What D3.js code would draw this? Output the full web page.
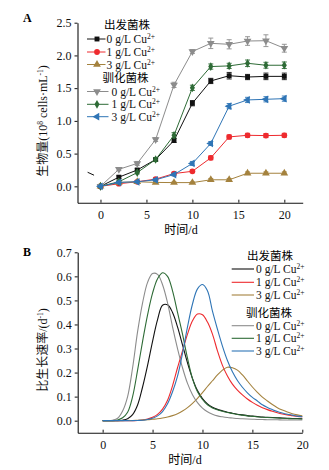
<!DOCTYPE html>
<html>
<head>
<meta charset="utf-8">
<script src="https://cdn.jsdelivr.net/npm/d3@7"></script>
<style>
  body { margin: 0; background: #fff; }
  svg { display: block; }
</style>
</head>
<body>
<svg id="chart" width="329" height="470"></svg>
<script>
// ---- panel A data (biomass, 10^8 cells/mL) ----
const daysA = [0, 2, 4, 6, 8, 10, 12, 14, 16, 18, 20];
const start0 = [0, 0.14, 0.25, 0.41, 0.70, 1.27, 1.61, 1.69, 1.67, 1.68, 1.68];
const start1 = [0, 0.04, 0.07, 0.11, 0.195, 0.23, 0.435, 0.755, 0.78, 0.775, 0.78];
const start3 = [0, 0.06, 0.07, 0.06, 0.057, 0.057, 0.10, 0.10, 0.20, 0.20, 0.20];
const acc0 = [0, 0.26, 0.35, 0.715, 1.55, 2.06, 2.185, 2.17, 2.22, 2.225, 2.11];
const acc1 = [0, 0.07, 0.21, 0.41, 0.78, 1.505, 1.83, 1.84, 1.88, 1.85, 1.85];
const acc3 = [0, 0.06, 0.07, 0.10, 0.18, 0.35, 0.655, 1.225, 1.32, 1.33, 1.34];
const start0Err = [0.01, 0.02, 0.02, 0.02, 0.03, 0.04, 0.04, 0.05, 0.04, 0.05, 0.05];
const start1Err = [0.01, 0.02, 0.02, 0.02, 0.02, 0.02, 0.03, 0.03, 0.03, 0.03, 0.03];
const start3Err = [0.01, 0.01, 0.01, 0.01, 0.01, 0.01, 0.02, 0.02, 0.02, 0.02, 0.02];
const acc0Err = [0.01, 0.02, 0.03, 0.03, 0.04, 0.03, 0.08, 0.07, 0.066, 0.09, 0.06];
const acc1Err = [0.01, 0.02, 0.02, 0.03, 0.04, 0.04, 0.04, 0.04, 0.05, 0.045, 0.05];
const acc3Err = [0.01, 0.01, 0.01, 0.02, 0.02, 0.03, 0.03, 0.04, 0.04, 0.04, 0.04];

// ---- panel B data (specific growth rate, 1/d), read every half day ----
const daysB = [0, 0.5, 1, 1.5, 2, 2.5, 3, 3.5, 4, 4.5, 5, 5.5, 6, 6.5, 7, 7.5, 8, 8.5, 9, 9.5, 10,
  10.5, 11, 11.5, 12, 12.5, 13, 13.5, 14, 14.5, 15, 15.5, 16, 16.5, 17, 17.5, 18, 18.5, 19, 19.5, 20];
const rateStart0 = [0, 0, 0, 0, 0.002, 0.008, 0.025, 0.065, 0.14, 0.23, 0.33, 0.42, 0.48, 0.482, 0.45, 0.39, 0.315, 0.24, 0.175, 0.125, 0.092,
  0.07, 0.056, 0.047, 0.041, 0.035, 0.031, 0.027, 0.024, 0.021, 0.019, 0.017, 0.015, 0.014, 0.013, 0.012, 0.011, 0.01, 0.009, 0.009, 0.008];
const rateStart1 = [0, 0, 0, 0, 0, 0, 0, 0.001, 0.003, 0.007, 0.014, 0.026, 0.048, 0.085, 0.145, 0.22, 0.29, 0.36, 0.415, 0.443, 0.44,
  0.41, 0.36, 0.29, 0.23, 0.186, 0.152, 0.127, 0.107, 0.09, 0.076, 0.064, 0.054, 0.046, 0.039, 0.033, 0.028, 0.024, 0.021, 0.018, 0.016];
const rateStart3 = [0, 0, 0, 0, 0, 0.001, 0.001, 0.002, 0.003, 0.004, 0.006, 0.008, 0.011, 0.015, 0.021, 0.029, 0.04, 0.054, 0.072, 0.093, 0.117,
  0.142, 0.166, 0.19, 0.21, 0.222, 0.22, 0.21, 0.19, 0.165, 0.14, 0.118, 0.098, 0.082, 0.067, 0.054, 0.044, 0.036, 0.029, 0.024, 0.02];
const rateAcc0 = [0, 0, 0.002, 0.01, 0.04, 0.10, 0.22, 0.37, 0.49, 0.575, 0.612, 0.608, 0.565, 0.49, 0.39, 0.30, 0.22, 0.155, 0.108, 0.075, 0.052,
  0.037, 0.027, 0.02, 0.016, 0.013, 0.011, 0.009, 0.008, 0.007, 0.006, 0.005, 0.005, 0.004, 0.004, 0.004, 0.003, 0.003, 0.003, 0.003, 0.003];
const rateAcc1 = [0, 0, 0, 0.003, 0.012, 0.035, 0.10, 0.21, 0.33, 0.44, 0.53, 0.59, 0.615, 0.60, 0.54, 0.45, 0.36, 0.26, 0.175, 0.12, 0.088,
  0.066, 0.053, 0.045, 0.039, 0.034, 0.03, 0.026, 0.023, 0.02, 0.018, 0.016, 0.014, 0.013, 0.012, 0.011, 0.01, 0.009, 0.008, 0.008, 0.007];
const rateAcc3 = [0, 0, 0, 0, 0, 0, 0, 0.001, 0.002, 0.005, 0.01, 0.02, 0.038, 0.07, 0.12, 0.185, 0.28, 0.39, 0.485, 0.548, 0.566,
  0.54, 0.455, 0.38, 0.31, 0.25, 0.203, 0.167, 0.139, 0.116, 0.097, 0.082, 0.066, 0.055, 0.046, 0.038, 0.032, 0.027, 0.023, 0.019, 0.016];

const yTicksA = [0, 0.5, 1.0, 1.5, 2.0, 2.5];
const yTicksB = [0, 0.1, 0.2, 0.3, 0.4, 0.5, 0.6, 0.7];
const xTicks = [0, 5, 10, 15, 20];
const groupNames = ["出发菌株", "驯化菌株"];
const doseLabels = ["0 g/L Cu", "1 g/L Cu", "3 g/L Cu"];

const colors = {
  start0: "#111111", start1: "#ee2a2e", start3: "#a4823e",
  acc0: "#8c8c8c", acc1: "#2e6b36", acc3: "#2f75b6"
};

const seriesA = [
  { key: "start0", v: start0, e: start0Err, sym: d3.symbolSquare, size: 24, rot: 0 },
  { key: "start1", v: start1, e: start1Err, sym: d3.symbolCircle, size: 26, rot: 0 },
  { key: "start3", v: start3, e: start3Err, sym: d3.symbolTriangle, size: 26, rot: 0 },
  { key: "acc0", v: acc0, e: acc0Err, sym: d3.symbolTriangle, size: 26, rot: 180 },
  { key: "acc1", v: acc1, e: acc1Err, sym: d3.symbolDiamond, size: 22, rot: 0 },
  { key: "acc3", v: acc3, e: acc3Err, sym: d3.symbolTriangle, size: 26, rot: -90 }
];
const seriesB = [
  { key: "start0", v: rateStart0 }, { key: "start1", v: rateStart1 }, { key: "start3", v: rateStart3 },
  { key: "acc0", v: rateAcc0 }, { key: "acc1", v: rateAcc1 }, { key: "acc3", v: rateAcc3 }
];

const serif = "'Liberation Serif', 'Times New Roman', 'Noto Sans CJK SC', serif";
const svg = d3.select("#chart");
svg.append("rect").attr("width", 329).attr("height", 470).attr("fill", "#fff");

// scales
const xA = d3.scaleLinear().domain([-2.5, 22]).range([77.5, 302.7]);
const yA = d3.scaleLinear().domain([-0.25, 2.5]).range([202.7, 22.7]);
const xB = d3.scaleLinear().domain([-2.5, 20]).range([77.7, 302.3]);
const yB = d3.scaleLinear().domain([-0.05, 0.7]).range([432.7, 252.3]);

function drawAxes(x, y, yTicks, fmt) {
  const gx = svg.append("g")
    .attr("transform", `translate(0,${y.range()[0]})`)
    .call(d3.axisBottom(x).tickValues(xTicks).tickSizeInner(-3).tickSizeOuter(0).tickPadding(8));
  const gy = svg.append("g")
    .attr("transform", `translate(${x.range()[0]},0)`)
    .call(d3.axisLeft(y).tickValues(yTicks).tickFormat(d3.format(fmt)).tickSizeInner(3).tickSizeOuter(0).tickPadding(3));
  [gx, gy].forEach(g => {
    g.select(".domain").attr("stroke", "#111").attr("stroke-width", 1.1);
    g.selectAll(".tick line").attr("stroke", "#111");
    g.selectAll("text").attr("fill", "#111").style("font-family", serif).style("font-size", "12px");
  });
}

function supText(g, parts, attrs) {
  const t = g.append("text").style("font-family", serif).attr("fill", "#111");
  Object.entries(attrs).forEach(([k, v]) => t.attr(k, v));
  let shifted = false;
  parts.forEach(p => {
    const s = t.append("tspan").text(p.t);
    if (p.sup) { s.attr("dy", -4).style("font-size", "7.5px"); shifted = true; }
    else if (shifted) { s.attr("dy", 4); shifted = false; }
  });
  return t;
}

// ================= Panel A =================
drawAxes(xA, yA, yTicksA, ".1f");

// small break mark on the left
svg.append("line")
  .attr("x1", xA(-1.4)).attr("y1", yA(0.215))
  .attr("x2", xA(-0.7)).attr("y2", yA(0.17))
  .attr("stroke", "#111").attr("stroke-width", 1);

const lineA = d3.line().x((d, i) => xA(daysA[i])).y(d => yA(d));

seriesA.forEach(s => {
  const g = svg.append("g");
  g.append("path")
    .attr("d", lineA(s.v))
    .attr("fill", "none")
    .attr("stroke", colors[s.key])
    .attr("stroke-width", 1);
  // error bars
  s.v.forEach((v, i) => {
    const cx = xA(daysA[i]);
    g.append("path")
      .attr("d", `M${cx - 2.5},${yA(v + s.e[i])}h5M${cx},${yA(v + s.e[i])}V${yA(v - s.e[i])}M${cx - 2.5},${yA(v - s.e[i])}h5`)
      .attr("fill", "none")
      .attr("stroke", colors[s.key])
      .attr("stroke-width", 0.9);
  });
  g.selectAll(".m")
    .data(s.v)
    .join("path")
    .attr("d", d3.symbol(s.sym, s.size))
    .attr("transform", (d, i) => `translate(${xA(daysA[i])},${yA(d)}) rotate(${s.rot})`)
    .attr("fill", colors[s.key]);
});

// legend A
const legA = svg.append("g");
const legRowsA = [39, 52, 64.5, 91.5, 104.3, 116.7];
legA.append("text").attr("x", 127).attr("y", 29).attr("text-anchor", "middle")
  .style("font-family", serif).style("font-size", "11.5px").text(groupNames[0]);
legA.append("text").attr("x", 125.5).attr("y", 81.5).attr("text-anchor", "middle")
  .style("font-family", serif).style("font-size", "11.5px").text(groupNames[1]);
seriesA.forEach((s, i) => {
  const yy = legRowsA[i];
  const x2 = i < 3 ? 105.5 : 108.5;
  legA.append("line").attr("x1", 87).attr("x2", x2).attr("y1", yy).attr("y2", yy)
    .attr("stroke", colors[s.key]).attr("stroke-width", 1);
  legA.append("path").attr("d", d3.symbol(s.sym, s.size))
    .attr("transform", `translate(97,${yy}) rotate(${s.rot})`).attr("fill", colors[s.key]);
  supText(legA, [{ t: doseLabels[i % 3] }, { t: "2+", sup: true }],
    { x: i < 3 ? 106.5 : 111.5, y: yy + 4, "font-size": "11.5px" });
});

// axis titles A
supText(svg, [{ t: "生物量(10" }, { t: "8", sup: true }, { t: " cells·mL" }, { t: "-1", sup: true }, { t: ")" }],
  { transform: "translate(47,121) rotate(-90)", "text-anchor": "middle", "font-size": "12px" });
svg.append("text").attr("x", 181).attr("y", 234).attr("text-anchor", "middle")
  .style("font-family", serif).style("font-size", "12px").text("时间/d");
svg.append("text").attr("x", 23).attr("y", 22).style("font-family", serif)
  .style("font-size", "12px").style("font-weight", "bold").text("A");

// ================= Panel B =================
drawAxes(xB, yB, yTicksB, ".1f");

const lineB = d3.line().x((d, i) => xB(daysB[i])).y(d => yB(d)).curve(d3.curveCatmullRom);
seriesB.forEach(s => {
  svg.append("path")
    .attr("d", lineB(s.v))
    .attr("fill", "none")
    .attr("stroke", colors[s.key])
    .attr("stroke-width", 1.1);
});

// legend B
const legB = svg.append("g");
const legRowsB = [269, 282.3, 295, 325.7, 338.3, 351];
legB.append("text").attr("x", 270).attr("y", 259.5).attr("text-anchor", "middle")
  .style("font-family", serif).style("font-size", "11.5px").text(groupNames[0]);
legB.append("text").attr("x", 269).attr("y", 316.5).attr("text-anchor", "middle")
  .style("font-family", serif).style("font-size", "11.5px").text(groupNames[1]);
seriesB.forEach((s, i) => {
  const yy = legRowsB[i];
  legB.append("line").attr("x1", 231.7).attr("x2", 254).attr("y1", yy).attr("y2", yy)
    .attr("stroke", colors[s.key]).attr("stroke-width", 1.1);
  supText(legB, [{ t: doseLabels[i % 3] }, { t: "2+", sup: true }],
    { x: 256, y: yy + 4, "font-size": "11.5px" });
});

// axis titles B
supText(svg, [{ t: "比生长速率/(d" }, { t: "-1", sup: true }, { t: ")" }],
  { transform: "translate(47,350) rotate(-90)", "text-anchor": "middle", "font-size": "12px" });
svg.append("text").attr("x", 185).attr("y", 464).attr("text-anchor", "middle")
  .style("font-family", serif).style("font-size", "12px").text("时间/d");
svg.append("text").attr("x", 23).attr("y", 256).style("font-family", serif)
  .style("font-size", "12px").style("font-weight", "bold").text("B");
</script>
</body>
</html>
